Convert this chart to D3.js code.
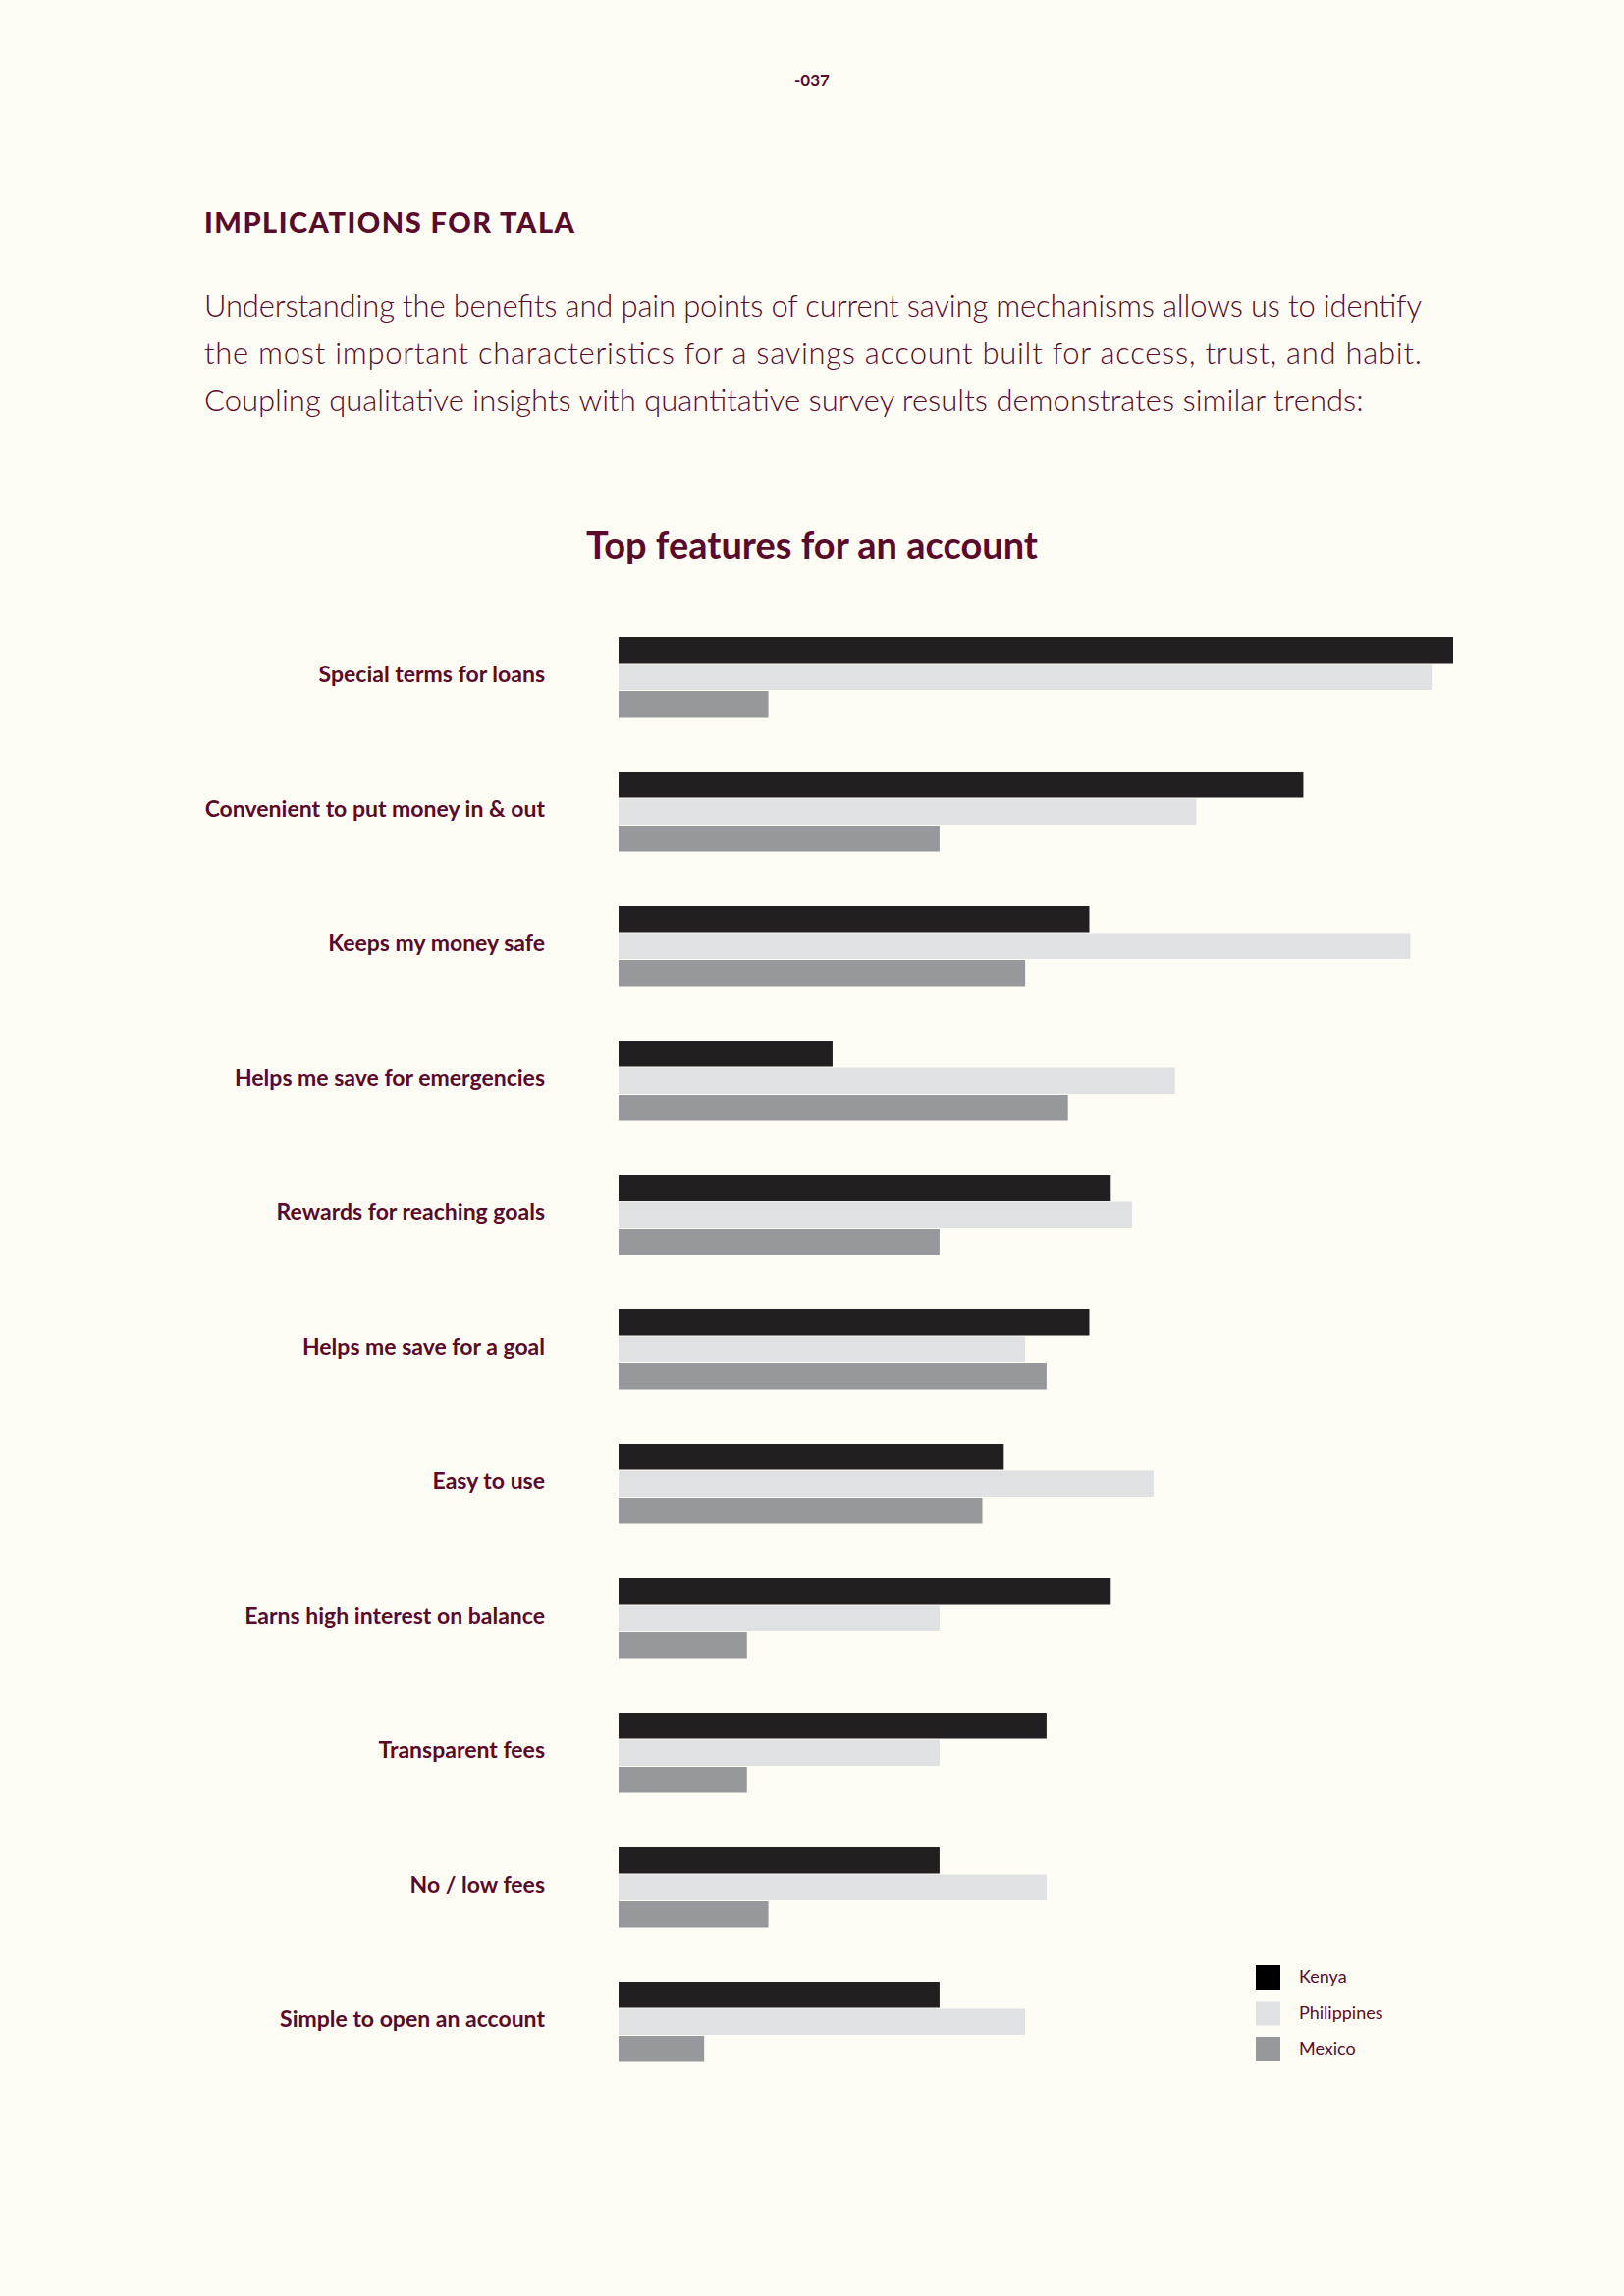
<!DOCTYPE html>
<html><head><meta charset="utf-8">
<script src="https://cdn.jsdelivr.net/npm/d3@7"></script>
<style>body{margin:0;background:#fdfdf5}svg{display:block}</style>
</head><body>
<script>
// data
var features = ["Special terms for loans", "Convenient to put money in  & out", "Keeps my money safe",
  "Helps me save for emergencies", "Rewards for reaching goals", "Helps me save for a goal", "Easy to use",
  "Earns high interest on balance", "Transparent fees", "No / low fees", "Simple to open an account"];
var countries = ["Kenya", "Philippines", "Mexico"];
var kenya = [39, 32, 22, 10, 23, 22, 18, 23, 20, 15, 15];
var philippines = [38, 27, 37, 26, 24, 19, 25, 15, 15, 20, 19];
var mexico = [7, 15, 19, 21, 15, 20, 17, 6, 6, 7, 4];
var colors = ["#231f20", "#e0e1e2", "#97989b"];
var paragraph = [
  "Understanding the benefits and pain points of current saving mechanisms allows us to identify",
  "the most important characteristics for a savings account built for access, trust, and habit.",
  "Coupling qualitative insights with quantitative survey results demonstrates similar trends:"];

var W = 1654, H = 2339, ink = "#5a0a2a", font = "Lato, 'Noto Sans', sans-serif";
var svg = d3.select("body").append("svg").attr("width", W).attr("height", H);
svg.append("rect").attr("width", W).attr("height", H).attr("fill", "#fdfdf5");

svg.append("text").attr("x", 827).attr("y", 88).attr("text-anchor", "middle")
  .attr("font-family", font).attr("font-weight", 700).attr("font-size", 17).attr("fill", ink).text("-037");
svg.append("text").attr("x", 208).attr("y", 237).attr("font-family", font).attr("font-weight", 900)
  .attr("font-size", 29).attr("letter-spacing", 1.5).attr("fill", ink).text("IMPLICATIONS FOR TALA");
paragraph.forEach(function (line, i) {
  var t = svg.append("text").attr("x", 208).attr("y", 323 + i * 48).attr("font-family", font)
    .attr("font-weight", 300).attr("font-size", 31).attr("fill", ink).text(line);
  if (i < 2) t.attr("textLength", 1240).attr("lengthAdjust", "spacing");
});
svg.append("text").attr("x", 827).attr("y", 569).attr("text-anchor", "middle").attr("font-family", font)
  .attr("font-weight", 700).attr("font-size", 38).attr("fill", ink).text("Top features for an account");

var x = d3.scaleLinear().domain([0, 39]).range([630, 1480]);
var y = d3.scaleBand().domain(features).range([649, 649 + 137 * 11]).paddingInner(0).paddingOuter(0);
var bh = 26.5;
var series = [kenya, philippines, mexico];

var g = svg.selectAll("g.feat").data(features).enter().append("g").attr("class", "feat")
  .attr("transform", function (d) { return "translate(0," + y(d) + ")"; });
g.append("text").attr("x", 555).attr("y", bh * 1.5 + 6).attr("text-anchor", "end")
  .attr("font-family", font).attr("font-weight", 700).attr("font-size", 23).attr("fill", ink)
  .text(function (d) { return d; });
series.forEach(function (vals, s) {
  g.append("rect").attr("x", x(0)).attr("y", s * (bh + 1))
    .attr("width", function (d, i) { return x(vals[i]) - x(0); })
    .attr("height", bh).attr("fill", colors[s]);
});

var lg = svg.selectAll("g.leg").data(countries).enter().append("g").attr("class", "leg")
  .attr("transform", function (d, i) { return "translate(1279," + (2002 + i * 36.5) + ")"; });
lg.append("rect").attr("width", 25).attr("height", 25)
  .attr("fill", function (d, i) { return i === 0 ? "#000" : colors[i]; });
lg.append("text").attr("x", 44).attr("y", 18).attr("font-family", font).attr("font-size", 18)
  .attr("fill", ink).text(function (d) { return d; });
</script>
</body></html>
